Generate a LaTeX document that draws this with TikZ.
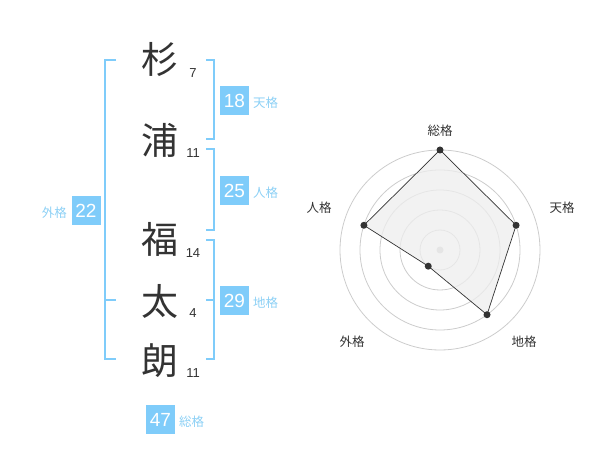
\documentclass[tikz,border=0pt]{standalone}
\usepackage{fontspec}
\setmainfont{Liberation Sans}
\newfontfamily\jp{Noto Sans CJK JP}
\usetikzlibrary{calc}
\definecolor{sky}{RGB}{127,204,250}
\definecolor{skytxt}{RGB}{140,208,245}
\definecolor{ink}{RGB}{51,51,51}
\definecolor{ring}{RGB}{204,204,204}
\definecolor{area}{RGB}{238,238,238}
\begin{document}
\begin{tikzpicture}[x=1pt,y=-1pt,
  kanji/.style={font=\jp\fontsize{37}{37}\selectfont, text=ink, inner sep=0pt},
  stroke/.style={font=\fontsize{13}{13}\selectfont, text=ink, inner sep=0pt},
  badge/.style={fill=sky, text=white, minimum width=29pt, minimum height=29pt, inner sep=0pt, font=\fontsize{19}{19}\selectfont},
  blabel/.style={font=\jp\fontsize{12.5}{12.5}\selectfont, text=skytxt, inner sep=0pt},
  brk/.style={draw=sky, line width=1.8pt},
  rlabel/.style={font=\jp\fontsize{12.5}{12.5}\selectfont, text=ink, inner sep=0pt},
  dot/.style={circle, fill=ink, inner sep=0pt, minimum size=7pt},
]
\useasboundingbox (0,0) rectangle (600,470);
% characters
\node[kanji] (k1) at (160,59) {杉};
\node[kanji] (k2) at (160,140) {浦};
\node[kanji] (k3) at (160,239) {福};
\node[kanji] (k4) at (160,301) {太};
\node[kanji] (k5) at (160,361) {朗};
\node[stroke] (s1) at (193,73) {7};
\node[stroke] (s2) at (193,153) {11};
\node[stroke] (s3) at (193,253) {14};
\node[stroke] (s4) at (193,313) {4};
\node[stroke] (s5) at (193,373) {11};
% brackets
\draw[brk] (116,60) -- (105,60) -- (105,359) -- (116,359);
\draw[brk] (105,300) -- (116,300);
\draw[brk] (206,60) -- (214,60) -- (214,139) -- (206,139);
\draw[brk] (206,149) -- (214,149) -- (214,230) -- (206,230);
\draw[brk] (206,240) -- (214,240) -- (214,359) -- (206,359);
\draw[brk] (206,300) -- (214,300);
% badges
\node[badge] (b18) at (234.5,100.5) {18};
\node[blabel, anchor=west] (l18) at (253,103) {天格};
\node[badge] (b25) at (234.5,190.5) {25};
\node[blabel, anchor=west] (l25) at (253,193) {人格};
\node[badge] (b22) at (86,210.5) {22};
\node[blabel, anchor=east] (l22) at (67,213) {外格};
\node[badge] (b29) at (234.5,300.5) {29};
\node[blabel, anchor=west] (l29) at (253,303) {地格};
\node[badge] (b47) at (160.5,419.5) {47};
\node[blabel, anchor=west] (l47) at (179,422) {総格};
% radar
\coordinate (c) at (440,250);
\foreach \r in {20,40,60,80,100} \draw[ring, line width=0.8pt] (c) circle[radius=\r pt];
\fill[ring] (c) circle[radius=3.5pt];
\coordinate (pS) at ($(c)+(90:100pt)$);
\coordinate (pT) at ($(c)+(18:80pt)$);
\coordinate (pC) at ($(c)+(-54:80pt)$);
\coordinate (pG) at ($(c)+(-126:20pt)$);
\coordinate (pJ) at ($(c)+(162:80pt)$);
\fill[area, fill opacity=0.75] (pS) -- (pT) -- (pC) -- (pG) -- (pJ) -- cycle;
\draw[ink, line width=0.7pt] (pS) -- (pT) -- (pC) -- (pG) -- (pJ) -- cycle;
\foreach \p in {pS,pT,pC,pG,pJ} \node[dot] at (\p) {};
\node[rlabel] (rS) at (440,131) {総格};
\node[rlabel] (rT) at (562,208) {天格};
\node[rlabel] (rC) at (524,342) {地格};
\node[rlabel] (rG) at (352,342) {外格};
\node[rlabel] (rJ) at (319,208) {人格};
\end{tikzpicture}
\end{document}
